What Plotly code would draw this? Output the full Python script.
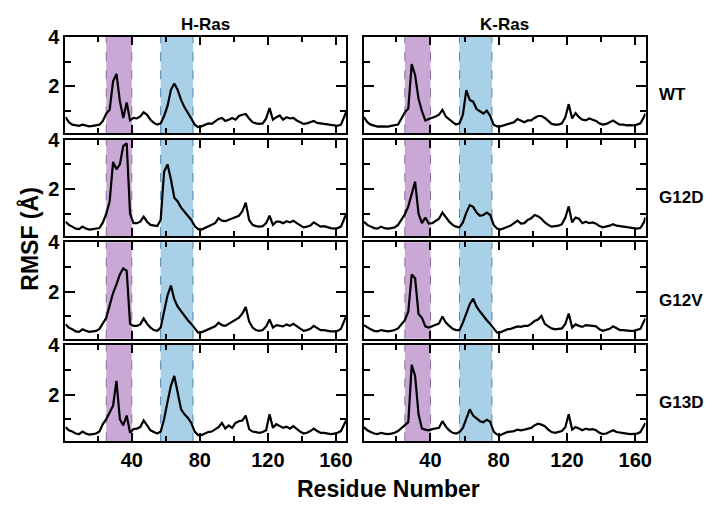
import plotly.graph_objects as go

residues = list(range(1, 166, 2)) + [166]

hras_wt = [0.75, 0.55, 0.45, 0.42, 0.40, 0.45, 0.42, 0.38, 0.40, 0.42,
           0.45, 0.60, 0.90, 1.05, 2.20, 2.50, 1.40, 0.72, 1.35, 0.62,
           0.72, 0.70, 0.78, 0.95, 0.85, 0.65, 0.52, 0.45, 0.50, 0.80,
           1.20, 1.85, 2.12, 1.85, 1.45, 1.15, 0.95, 0.70, 0.45, 0.35,
           0.38, 0.45, 0.50, 0.48, 0.60, 0.68, 0.72, 0.60, 0.65, 0.72,
           0.65, 0.80, 0.85, 0.88, 0.70, 0.55, 0.50, 0.48, 0.50, 0.70,
           1.12, 0.65, 0.75, 0.82, 0.65, 0.75, 0.70, 0.72, 0.62, 0.55,
           0.48, 0.50, 0.55, 0.60, 0.52, 0.50, 0.45, 0.45, 0.42, 0.42,
           0.40, 0.45, 0.75, 0.95]

kras_wt = [0.75, 0.55, 0.45, 0.40, 0.37, 0.38, 0.36, 0.37, 0.40, 0.42,
           0.45, 0.70, 0.95, 1.10, 2.90, 2.45, 1.50, 1.00, 0.62, 0.68,
           0.72, 0.78, 0.85, 1.05, 0.78, 0.65, 0.55, 0.45, 0.50, 0.85,
           1.85, 1.45, 1.38, 1.08, 0.98, 0.90, 1.02, 0.80, 0.45, 0.38,
           0.38, 0.42, 0.45, 0.50, 0.55, 0.68, 0.60, 0.55, 0.62, 0.62,
           0.72, 0.80, 0.80, 0.72, 0.60, 0.48, 0.45, 0.45, 0.50, 0.75,
           1.28, 0.70, 0.92, 0.75, 0.65, 0.62, 0.70, 0.65, 0.60, 0.50,
           0.45, 0.48, 0.55, 0.62, 0.52, 0.45, 0.45, 0.42, 0.43, 0.42,
           0.45, 0.50, 0.75, 0.90]

hras_g12d = [0.68, 0.55, 0.48, 0.40, 0.38, 0.48, 0.40, 0.36, 0.38, 0.40,
             0.42, 0.65, 1.00, 1.50, 3.10, 2.80, 3.00, 3.75, 3.85, 1.00,
             0.62, 0.62, 0.68, 0.88, 0.68, 0.55, 0.52, 0.50, 0.75, 2.70,
             3.00, 2.40, 1.65, 1.50, 1.25, 1.08, 0.90, 0.75, 0.50, 0.38,
             0.36, 0.42, 0.50, 0.55, 0.62, 0.82, 0.72, 0.70, 0.75, 0.82,
             0.85, 0.92, 1.10, 1.45, 0.75, 0.55, 0.50, 0.48, 0.50, 0.62,
             0.92, 0.55, 0.68, 0.68, 0.62, 0.70, 0.65, 0.72, 0.62, 0.52,
             0.45, 0.48, 0.52, 0.65, 0.55, 0.48, 0.50, 0.45, 0.42, 0.40,
             0.42, 0.48, 0.85, 0.98]

kras_g12d = [0.68, 0.55, 0.48, 0.42, 0.40, 0.48, 0.42, 0.40, 0.42, 0.45,
             0.55, 0.75, 0.98, 1.30, 1.85, 2.30, 1.00, 0.62, 0.85, 0.60,
             0.62, 0.72, 0.80, 1.05, 0.85, 0.68, 0.55, 0.48, 0.45, 0.65,
             1.05, 1.35, 1.28, 1.05, 0.92, 0.95, 1.05, 0.95, 0.55, 0.40,
             0.36, 0.42, 0.48, 0.52, 0.62, 0.72, 0.60, 0.62, 0.75, 0.82,
             0.95, 0.90, 0.80, 0.65, 0.55, 0.48, 0.50, 0.52, 0.58, 0.85,
             1.30, 0.65, 0.85, 0.80, 0.62, 0.68, 0.62, 0.65, 0.60, 0.50,
             0.45, 0.48, 0.52, 0.58, 0.52, 0.50, 0.48, 0.45, 0.45, 0.42,
             0.40, 0.42, 0.65, 0.85]

hras_g12v = [0.68, 0.55, 0.48, 0.40, 0.38, 0.48, 0.42, 0.38, 0.40, 0.42,
             0.50, 0.72, 0.95, 1.45, 1.95, 2.30, 2.70, 2.95, 2.85, 0.70,
             0.62, 0.62, 0.68, 0.92, 0.70, 0.55, 0.45, 0.42, 0.55, 1.20,
             1.85, 2.25, 1.70, 1.40, 1.22, 1.00, 0.85, 0.70, 0.50, 0.35,
             0.36, 0.42, 0.48, 0.52, 0.60, 0.75, 0.65, 0.62, 0.70, 0.78,
             0.85, 0.95, 1.12, 1.38, 0.80, 0.55, 0.45, 0.42, 0.45, 0.60,
             0.88, 0.55, 0.65, 0.62, 0.60, 0.68, 0.62, 0.70, 0.60, 0.50,
             0.42, 0.45, 0.50, 0.62, 0.52, 0.45, 0.45, 0.42, 0.40, 0.40,
             0.42, 0.50, 0.85, 1.00]

kras_g12v = [0.65, 0.55, 0.48, 0.42, 0.40, 0.45, 0.42, 0.40, 0.42, 0.45,
             0.52, 0.70, 0.85, 1.20, 2.70, 2.55, 1.10, 0.95, 0.60, 0.55,
             0.60, 0.65, 0.72, 1.00, 0.75, 0.62, 0.50, 0.45, 0.45, 0.75,
             1.10, 1.50, 1.72, 1.40, 1.20, 1.00, 0.85, 0.70, 0.50, 0.35,
             0.36, 0.42, 0.48, 0.50, 0.55, 0.60, 0.58, 0.62, 0.62, 0.70,
             0.82, 0.88, 1.02, 0.70, 0.60, 0.52, 0.48, 0.50, 0.52, 0.70,
             1.12, 0.55, 0.68, 0.62, 0.58, 0.65, 0.62, 0.62, 0.60, 0.48,
             0.42, 0.45, 0.50, 0.60, 0.52, 0.45, 0.45, 0.42, 0.42, 0.42,
             0.45, 0.50, 0.80, 0.92]

hras_g13d = [0.68, 0.55, 0.50, 0.42, 0.40, 0.50, 0.42, 0.38, 0.40, 0.42,
             0.50, 0.80, 1.00, 1.30, 1.55, 2.55, 1.00, 0.75, 1.15, 0.45,
             0.60, 0.62, 0.68, 0.95, 0.75, 0.55, 0.48, 0.42, 0.50, 1.00,
             1.70, 2.35, 2.75, 2.10, 1.40, 1.20, 1.05, 0.85, 0.50, 0.36,
             0.36, 0.42, 0.48, 0.50, 0.58, 0.68, 0.85, 0.62, 0.75, 0.65,
             0.85, 0.92, 0.95, 1.15, 0.60, 0.50, 0.48, 0.45, 0.48, 0.55,
             1.20, 0.65, 0.80, 0.72, 0.65, 0.70, 0.62, 0.72, 0.60, 0.50,
             0.42, 0.45, 0.52, 0.62, 0.52, 0.45, 0.45, 0.42, 0.40, 0.42,
             0.45, 0.52, 0.80, 0.95]

kras_g13d = [0.68, 0.55, 0.48, 0.42, 0.40, 0.45, 0.42, 0.40, 0.42, 0.45,
             0.52, 0.65, 0.75, 0.88, 3.20, 2.75, 1.20, 0.62, 0.58, 0.55,
             0.60, 0.62, 0.65, 0.92, 0.70, 0.55, 0.45, 0.42, 0.48, 0.65,
             1.05, 1.40, 1.15, 1.05, 0.92, 0.88, 0.98, 0.90, 0.50, 0.38,
             0.36, 0.42, 0.48, 0.50, 0.52, 0.58, 0.55, 0.58, 0.62, 0.65,
             0.75, 0.82, 0.78, 0.72, 0.58, 0.48, 0.45, 0.48, 0.52, 0.68,
             1.20, 0.58, 0.68, 0.62, 0.55, 0.62, 0.58, 0.60, 0.55, 0.45,
             0.40, 0.42, 0.48, 0.55, 0.48, 0.45, 0.42, 0.42, 0.40, 0.40,
             0.42, 0.48, 0.70, 0.85]

row_labels = ["WT", "G12D", "G12V", "G13D"]
col_titles = ["H-Ras", "K-Ras"]
series = [[hras_wt, kras_wt], [hras_g12d, kras_g12d],
          [hras_g12v, kras_g12v], [hras_g13d, kras_g13d]]
switch1 = [25, 40]
switch2 = [57, 76]
x_ticks = [40, 80, 120, 160]
y_ticks = [2, 4]

W, H = 714, 507


def px_x(p):
    return p / W


def px_y(p):
    return 1 - p / H


col_px = [(66, 349), (367, 651)]
row_top = [26.5, 131.5, 236.5, 341.5]
row_h = 98.5

FONT = "Liberation Sans, Arial, sans-serif"
fig = go.Figure()
layout = dict(width=W, height=H, margin=dict(l=0, r=0, t=0, b=0),
              plot_bgcolor="white", paper_bgcolor="white", showlegend=False,
              font=dict(family=FONT, color="black"))
shapes = []
annotations = []
for r in range(4):
    for c in range(2):
        idx = r * 2 + c + 1
        xa = "xaxis" if idx == 1 else f"xaxis{idx}"
        ya = "yaxis" if idx == 1 else f"yaxis{idx}"
        xr = "x" if idx == 1 else f"x{idx}"
        yr = "y" if idx == 1 else f"y{idx}"
        x0, x1 = col_px[c]
        top = row_top[r]
        bot = top + row_h
        layout[xa] = dict(
            domain=[px_x(x0), px_x(x1)], anchor=yr, range=[1, 166],
            tickvals=x_ticks, ticks="inside", ticklen=8, tickwidth=2,
            tickcolor="black", showline=True, linecolor="black", linewidth=2,
            mirror="allticks", showgrid=False, zeroline=False,
            showticklabels=(r == 3),
            tickfont=dict(size=20, family=FONT, weight="bold", color="black"),
            minor=dict(tickvals=[20, 60, 100, 140], ticks="inside", ticklen=5,
                       tickwidth=1.5, tickcolor="black", showgrid=False),
        )
        layout[ya] = dict(
            domain=[px_y(bot), px_y(top)], anchor=xr, range=[0.1, 4],
            tickvals=y_ticks, ticks="inside", ticklen=10, tickwidth=2,
            tickcolor="black", showline=True, linecolor="black", linewidth=2,
            mirror="allticks", showgrid=False, zeroline=False,
            showticklabels=(c == 0),
            tickfont=dict(size=20, family=FONT, weight="bold", color="black"),
            minor=dict(tickvals=[1, 3], ticks="inside", ticklen=6,
                       tickwidth=1.5, tickcolor="black", showgrid=False),
        )
        for (a, b), fill, edge in [(switch1, "#caa8d6", "#8a6a9c"),
                                   (switch2, "#a8d0e6", "#4f83ad")]:
            shapes.append(dict(type="rect", xref=xr, yref=f"{yr} domain",
                               x0=a, x1=b, y0=0, y1=1, fillcolor=fill,
                               line=dict(width=0), layer="below"))
            for xv in (a, b):
                shapes.append(dict(type="line", xref=xr, yref=f"{yr} domain",
                                   x0=xv, x1=xv, y0=0, y1=1, layer="below",
                                   line=dict(color=edge, width=1, dash="dash")))
        fig.add_trace(go.Scatter(x=residues, y=series[r][c], mode="lines",
                                 line=dict(color="black", width=2.2),
                                 xaxis=xr, yaxis=yr, hoverinfo="skip"))
    annotations.append(dict(text=row_labels[r], xref="paper", yref="paper",
                            x=px_x(663), y=px_y(row_top[r] + 59),
                            xanchor="left", yanchor="middle", showarrow=False,
                            font=dict(size=17, family=FONT, weight="bold")))
for c in range(2):
    x0, x1 = col_px[c]
    annotations.append(dict(text=col_titles[c], xref="paper", yref="paper",
                            x=px_x((x0 + x1) / 2), y=px_y(14),
                            xanchor="center", yanchor="middle", showarrow=False,
                            font=dict(size=17, family=FONT, weight="bold")))
annotations.append(dict(text="Residue Number", xref="paper", yref="paper",
                        x=px_x(392), y=px_y(489), xanchor="center",
                        yanchor="middle", showarrow=False,
                        font=dict(size=23, family=FONT, weight="bold")))
annotations.append(dict(text="RMSF (Å)", xref="paper", yref="paper",
                        x=px_x(30), y=px_y(233), xanchor="center",
                        yanchor="middle", showarrow=False, textangle=-90,
                        font=dict(size=23, family=FONT, weight="bold")))
layout["shapes"] = shapes
layout["annotations"] = annotations
fig.update_layout(**layout)
fig.write_html("out.html", config={"displayModeBar": False},
               post_script="document.body.style.margin='0';"
                           "document.body.style.overflow='hidden';")
